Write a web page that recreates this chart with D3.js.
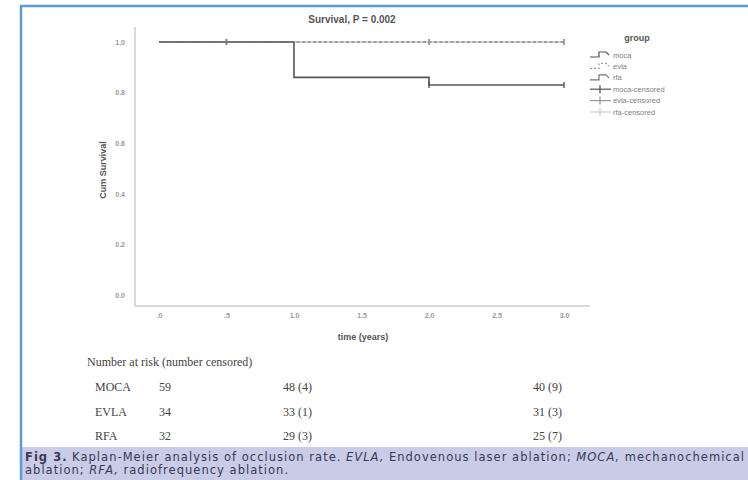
<!DOCTYPE html>
<html>
<head>
    <meta charset="utf-8">
    <title>Kaplan-Meier</title>
    <script src="https://d3js.org/d3.v7.min.js"></script>
    <style>
        body { margin: 0; background: #fff; }
        svg { display: block; }
    </style>
</head>
<body>
<svg width="748" height="480"></svg>
<script>
    // survival curves (time in years, cumulative survival)
    var mocaTimes = [0, 1.0, 2.0, 3.0];
    var mocaSurv = [1.0, 0.86, 0.83, 0.83];
    var evlaTimes = [0, 3.0];
    var evlaSurv = [1.0, 1.0];
    var rfaTimes = [0, 3.0];
    var rfaSurv = [1.0, 1.0];
    // censored marks
    var mocaCensTimes = [2.0, 3.0];
    var evlaCensTimes = [0.5, 2.0, 3.0];
    var rfaCensTimes = [0.5, 2.0, 3.0];

    var xTicks = [0, 0.5, 1.0, 1.5, 2.0, 2.5, 3.0];
    var xTickLabels = [".0", ".5", "1.0", "1.5", "2.0", "2.5", "3.0"];
    var yTicks = [0, 0.2, 0.4, 0.6, 0.8, 1.0];
    var yTickLabels = ["0.0", "0.2", "0.4", "0.6", "0.8", "1.0"];

    var legendLabels = ["moca", "evla", "rfa", "moca-censored", "evla-censored", "rfa-censored"];

    // number at risk table
    var riskGroups = ["MOCA", "EVLA", "RFA"];
    var riskStart = ["59", "34", "32"];
    var riskYear1 = ["48 (4)", "33 (1)", "29 (3)"];
    var riskYear3 = ["40 (9)", "31 (3)", "25 (7)"];

    var svg = d3.select("svg");
    var sans = "Arial, 'Liberation Sans', sans-serif";

    var x = d3.scaleLinear().domain([0, 3]).range([159, 564]);
    var y = d3.scaleLinear().domain([0, 1]).range([295, 42]);

    // frame
    svg.append("rect").attr("x", 22).attr("y", 447).attr("width", 726).attr("height", 33)
        .attr("fill", "#c9cbe7");
    svg.append("path").attr("d", "M21,480 V6 H748")
        .attr("fill", "none").attr("stroke", "#5b9bd5").attr("stroke-width", 2.5);

    // title
    svg.append("text").attr("x", 352).attr("y", 23).attr("text-anchor", "middle")
        .attr("font-family", sans).attr("font-size", 10).attr("font-weight", "bold")
        .attr("fill", "#555").text("Survival, P = 0.002");

    // axis lines
    svg.append("line").attr("x1", 135).attr("x2", 590).attr("y1", 306).attr("y2", 306)
        .attr("stroke", "#ccc").attr("stroke-width", 1.5);
    svg.append("line").attr("x1", 135).attr("x2", 135).attr("y1", 27).attr("y2", 306)
        .attr("stroke", "#ccc").attr("stroke-width", 1.5);

    var xAxis = d3.axisBottom(x).tickValues(xTicks).tickSize(0)
        .tickFormat(function (d, i) { return xTickLabels[i]; });
    var gx = svg.append("g").attr("transform", "translate(0,310)").call(xAxis);
    gx.select(".domain").remove();
    gx.selectAll("text").attr("font-family", sans).attr("font-size", 7)
        .attr("font-weight", "bold").attr("fill", "#999");

    var yAxis = d3.axisLeft(y).tickValues(yTicks).tickSize(0)
        .tickFormat(function (d, i) { return yTickLabels[i]; });
    var gy = svg.append("g").attr("transform", "translate(128,0)").call(yAxis);
    gy.select(".domain").remove();
    gy.selectAll("text").attr("font-family", sans).attr("font-size", 7)
        .attr("font-weight", "bold").attr("fill", "#999");

    // axis titles
    svg.append("text").attr("x", 363).attr("y", 340).attr("text-anchor", "middle")
        .attr("font-family", sans).attr("font-size", 9).attr("font-weight", "bold")
        .attr("fill", "#555").text("time (years)");
    svg.append("text").attr("transform", "translate(106,170) rotate(-90)")
        .attr("text-anchor", "middle")
        .attr("font-family", sans).attr("font-size", 9).attr("font-weight", "bold")
        .attr("fill", "#555").text("Cum Survival");

    // curves
    var line = d3.line().curve(d3.curveStepAfter)
        .x(function (d) { return x(d[0]); })
        .y(function (d) { return y(d[1]); });

    function pairs(t, s) {
        return t.map(function (v, i) { return [v, s[i]]; });
    }
    function survAt(t, s, time) {
        var v = s[0];
        for (var i = 0; i < t.length; i++) { if (t[i] <= time) v = s[i]; }
        return v;
    }

    var curves = [
        {times: rfaTimes, surv: rfaSurv, cens: rfaCensTimes, color: "#c4c4c4", dash: null},
        {times: evlaTimes, surv: evlaSurv, cens: evlaCensTimes, color: "#8a8a8a", dash: "3,2.5"},
        {times: mocaTimes, surv: mocaSurv, cens: mocaCensTimes, color: "#555", dash: null}
    ];

    curves.forEach(function (c) {
        svg.append("path").datum(pairs(c.times, c.surv))
            .attr("d", line).attr("fill", "none")
            .attr("stroke", c.color).attr("stroke-width", 1.6)
            .attr("stroke-dasharray", c.dash);
        svg.selectAll(null).data(c.cens).enter().append("line")
            .attr("x1", function (d) { return x(d); })
            .attr("x2", function (d) { return x(d); })
            .attr("y1", function (d) { return y(survAt(c.times, c.surv, d)) - 3; })
            .attr("y2", function (d) { return y(survAt(c.times, c.surv, d)) + 3; })
            .attr("stroke", c.color).attr("stroke-width", 1.4);
    });
    // solid segment where the three curves overlap before year 1
    svg.append("path").datum([[0, 1.0], [1.0, 1.0]])
        .attr("d", line).attr("fill", "none").attr("stroke", "#777").attr("stroke-width", 1.6);
    svg.append("line").attr("x1", x(0.5)).attr("x2", x(0.5))
        .attr("y1", y(1) - 3).attr("y2", y(1) + 3).attr("stroke", "#777").attr("stroke-width", 1.4);

    // legend
    svg.append("text").attr("x", 637).attr("y", 41).attr("text-anchor", "middle")
        .attr("font-family", sans).attr("font-size", 9).attr("font-weight", "bold")
        .attr("fill", "#555").text("group");
    var legColors = ["#555", "#999", "#777", "#555", "#999", "#ccc"];
    var leg = svg.selectAll(".leg").data(legendLabels).enter().append("g")
        .attr("transform", function (d, i) { return "translate(590," + (55 + i * 11.4) + ")"; });
    leg.append("path")
        .attr("d", function (d, i) {
            return i < 3 ? "M0,2 H9 V-3 H16 L19,0" : "M0,0 H21";
        })
        .attr("fill", "none")
        .attr("stroke", function (d, i) { return legColors[i]; })
        .attr("stroke-width", 1.2)
        .attr("stroke-dasharray", function (d, i) { return i === 1 ? "2,2" : null; });
    leg.filter(function (d, i) { return i >= 3; }).append("line")
        .attr("x1", 10).attr("x2", 10).attr("y1", -4).attr("y2", 4)
        .attr("stroke", function (d, i) { return legColors[i + 3]; }).attr("stroke-width", 1.3);
    leg.append("text").attr("x", 23).attr("y", 2.5)
        .attr("font-family", sans).attr("font-size", 7.5).attr("fill", "#808080")
        .text(function (d) { return d; });

    // number at risk
    var serif = "'Liberation Serif', 'Times New Roman', serif";
    svg.append("text").attr("x", 87).attr("y", 366)
        .attr("font-family", serif).attr("font-size", 12).attr("fill", "#444")
        .text("Number at risk (number censored)");
    var colX = [95, 159, 283, 533];
    var rows = svg.selectAll(".risk").data(riskGroups).enter().append("g")
        .attr("transform", function (d, i) { return "translate(0," + (391 + i * 24.5) + ")"; });
    [riskGroups, riskStart, riskYear1, riskYear3].forEach(function (col, c) {
        rows.append("text").attr("x", colX[c])
            .attr("font-family", serif).attr("font-size", 12).attr("fill", "#444")
            .text(function (d, i) { return col[i]; });
    });

    // caption: each styled run is its own text, placed after the previous one
    var capLines = [
        [["Fig 3.", "bold"], ["Kaplan-Meier analysis of occlusion rate.", ""], ["EVLA,", "italic"],
         ["Endovenous laser ablation;", ""], ["MOCA,", "italic"], ["mechanochemical", ""]],
        [["ablation;", ""], ["RFA,", "italic"], ["radiofrequency ablation.", ""]]
    ];
    var capFont = "'DejaVu Sans', sans-serif";
    var capSize = 11.5;
    var gap = 4.5;

    function layLine(parts, li, spacing) {
        var cx = 25, nodes = [];
        parts.forEach(function (p) {
            var t = svg.append("text").attr("x", cx).attr("y", 461 + li * 12.5)
                .attr("font-family", capFont).attr("font-size", capSize)
                .attr("letter-spacing", spacing)
                .attr("fill", "#3a3a55")
                .attr("font-weight", p[1] === "bold" ? "bold" : null)
                .attr("font-style", p[1] === "italic" ? "italic" : null)
                .text(p[0]);
            nodes.push(t);
            cx += t.node().getComputedTextLength() + gap;
        });
        return {end: cx - gap, nodes: nodes};
    }
    // find the spacing that makes line 1 reach the right edge
    var probe = layLine(capLines[0], 0, 0);
    var nChars = capLines[0].map(function (p) { return p[0]; }).join("").length;
    var spacing = Math.max(0, (745 - probe.end) / nChars);
    probe.nodes.forEach(function (n) { n.remove(); });
    capLines.forEach(function (parts, li) { layLine(parts, li, spacing); });
</script>
</body>
</html>
